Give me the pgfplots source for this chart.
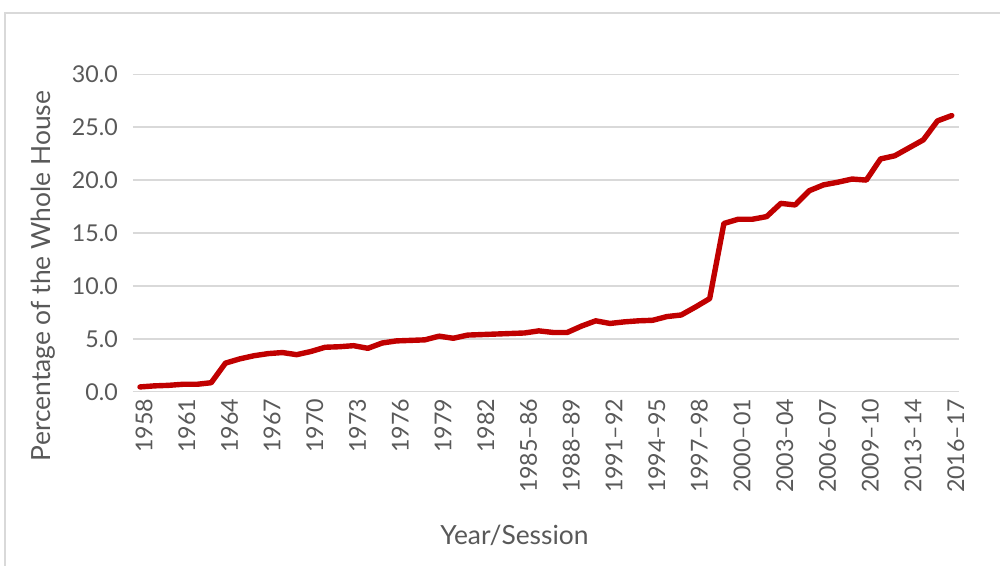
\documentclass[border=0pt]{standalone}
\usepackage{pgfplots}
\pgfplotsset{compat=1.18}
\usepackage{fontspec}
\setmainfont{Lato}
\definecolor{linered}{HTML}{C00000}
\definecolor{gridgray}{HTML}{D9D9D9}
\definecolor{textgray}{HTML}{595959}

% share of women, one value per year/session, 0 = 1958 ... 57 = 2016-17
\pgfplotstableread{
idx pct
0 0.45
1 0.55
2 0.6
3 0.7
4 0.7
5 0.85
6 2.7
7 3.1
8 3.4
9 3.6
10 3.7
11 3.5
12 3.8
13 4.2
14 4.25
15 4.35
16 4.1
17 4.6
18 4.8
19 4.85
20 4.9
21 5.25
22 5.05
23 5.35
24 5.4
25 5.45
26 5.5
27 5.55
28 5.75
29 5.6
30 5.6
31 6.2
32 6.7
33 6.45
34 6.6
35 6.7
36 6.75
37 7.1
38 7.25
39 8.0
40 8.8
41 15.9
42 16.3
43 16.3
44 16.55
45 17.8
46 17.65
47 19.0
48 19.55
49 19.8
50 20.1
51 20.0
52 22.0
53 22.3
54 23.05
55 23.8
56 25.6
57 26.1
}\women

\begin{document}
\begin{tikzpicture}
\useasboundingbox (-68pt,-87.15pt) rectangle (432pt,195.85pt);
\draw[gridgray, line width=0.8pt] (-65.5pt,-90pt) -- (-65.5pt,189.35pt) -- (440pt,189.35pt);
\begin{axis}[
  at={(2pt,0)}, anchor=origin,
  scale only axis, width=413pt, height=158.7pt,
  xmin=-0.5, xmax=57.5, ymin=0, ymax=30,
  axis line style={draw=none},
  major tick length=0pt,
  ytick={0,5,...,30},
  ymajorgrids, grid style={gridgray, line width=0.75pt},
  yticklabel={\pgfmathprintnumber[fixed,fixed zerofill,precision=1]{\tick}},
  /pgf/number format/assume math mode=true,
  xtick={0,3,...,57},
  xticklabels={1958,1961,1964,1967,1970,1973,1976,1979,1982,
    1985–86,1988–89,1991–92,1994–95,1997–98,2000–01,2003–04,
    2006–07,2009–10,2013–14,2016–17},
  ticklabel style={font=\fontsize{11.6}{13}\selectfont, text=textgray},
  xticklabel style={rotate=90, anchor=east, yshift=-2pt},
  yticklabel style={xshift=-4pt},
  xlabel={Year/Session},
  ylabel={Percentage of the Whole House},
  label style={font=\fontsize{13.2}{15}\selectfont, text=textgray},
  xlabel style={at={(axis description cs:0.462,0)}, anchor=center, yshift=-71.6pt},
  ylabel style={at={(axis description cs:-0.108,0.3645)}, anchor=center},
  clip=false,
]
\addplot[linered, line width=2.7pt, line join=round, line cap=round] table[x=idx, y=pct] {\women};
\end{axis}
\end{tikzpicture}
\end{document}
